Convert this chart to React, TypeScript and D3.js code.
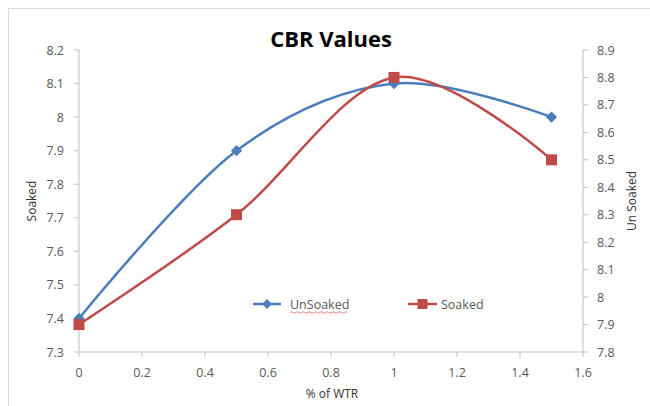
import React from "react";
import * as d3 from "d3";

const xValues = [0, 0.5, 1, 1.5];
const unSoaked = [7.4, 7.9, 8.1, 8.0];
const soaked = [7.9, 8.3, 8.8, 8.5];
const xTicks = [0, 0.2, 0.4, 0.6, 0.8, 1, 1.2, 1.4, 1.6];
const leftTicks = [7.3, 7.4, 7.5, 7.6, 7.7, 7.8, 7.9, 8, 8.1, 8.2];
const rightTicks = [7.8, 7.9, 8, 8.1, 8.2, 8.3, 8.4, 8.5, 8.6, 8.7, 8.8, 8.9];

const BLUE = "#4a7ebb";
const RED = "#be4b48";
const AXIS = "#bfbfbf";
const TXT = "#595959";
const FONT = "'Open Sans', 'Liberation Sans', sans-serif";

export default function App() {
  const W = 650, H = 406;
  const x = d3.scaleLinear().domain([0, 1.6]).range([79, 583]);
  const yL = d3.scaleLinear().domain([7.3, 8.2]).range([352, 50]);
  const yR = d3.scaleLinear().domain([7.8, 8.9]).range([352, 50]);
  const line = (ys: number[], sc: d3.ScaleLinear<number, number>) =>
    d3.line<number>().x((_, i) => x(xValues[i])).y((v) => sc(v)).curve(d3.curveCardinal.tension(0))(ys) || "";
  const fmt = (v: number) => String(+v.toFixed(1));
  return (
    <svg width={W} height={H} style={{ position: "absolute", left: 0, top: 0, background: "#fff" }}>
      <rect x={8.5} y={8.5} width={660} height={420} fill="none" stroke="#d9d9d9" strokeWidth={1} />
      <text x={331} y={47} textAnchor="middle" fontFamily={FONT} fontWeight="bold" fontSize={22} fill="#000">CBR Values</text>
      {/* axes */}
      <line x1={79} y1={50} x2={79} y2={352} stroke={AXIS} />
      <line x1={583} y1={50} x2={583} y2={352} stroke={AXIS} />
      <line x1={79} y1={352} x2={583} y2={352} stroke={AXIS} />
      {leftTicks.map((t) => (
        <g key={"l" + t}>
          <line x1={74} x2={79} y1={yL(t)} y2={yL(t)} stroke={AXIS} />
          <text x={64} y={yL(t) + 4.5} textAnchor="end" fontFamily={FONT} fontSize={12.5} fill={TXT}>{fmt(t)}</text>
        </g>
      ))}
      {rightTicks.map((t) => (
        <g key={"r" + t}>
          <line x1={583} x2={588} y1={yR(t)} y2={yR(t)} stroke={AXIS} />
          <text x={597} y={yR(t) + 4.5} textAnchor="start" fontFamily={FONT} fontSize={12.5} fill={TXT}>{fmt(t)}</text>
        </g>
      ))}
      {xTicks.map((t) => (
        <g key={"x" + t}>
          <line x1={x(t)} x2={x(t)} y1={352} y2={357} stroke={AXIS} />
          <text x={x(t)} y={377} textAnchor="middle" fontFamily={FONT} fontSize={12.5} fill={TXT}>{fmt(t)}</text>
        </g>
      ))}
      <text x={332} y={398} textAnchor="middle" fontFamily={FONT} fontSize={12} fill="#333">% of WTR</text>
      <text transform="translate(36,201) rotate(-90)" textAnchor="middle" fontFamily={FONT} fontSize={12} fill="#333">Soaked</text>
      <text transform="translate(636,201) rotate(-90)" textAnchor="middle" fontFamily={FONT} fontSize={12} fill="#333">Un Soaked</text>
      {/* series */}
      <path d={line(unSoaked, yL)} fill="none" stroke={BLUE} strokeWidth={2.5} />
      <path d={line(soaked, yR)} fill="none" stroke={RED} strokeWidth={2.5} />
      {unSoaked.map((v, i) => (
        <rect key={"b" + i} x={-4} y={-4} width={8} height={8} fill={BLUE}
          transform={`translate(${x(xValues[i])},${yL(v)}) rotate(45)`} />
      ))}
      {soaked.map((v, i) => (
        <rect key={"r" + i} x={x(xValues[i]) - 5.5} y={yR(v) - 5.5} width={11} height={11} fill={RED} />
      ))}
      {/* legend */}
      <line x1={253} x2={281} y1={304} y2={304} stroke={BLUE} strokeWidth={2.5} />
      <rect x={-3.5} y={-3.5} width={7} height={7} fill={BLUE} transform="translate(267,304) rotate(45)" />
      <text x={290} y={308.5} fontFamily={FONT} fontSize={12.5} fill={TXT}>UnSoaked</text>
      <path d="M290,312.5 q1.5,-1.5 3,0 t3,0 t3,0 t3,0 t3,0 t3,0 t3,0 t3,0 t3,0 t3,0 t3,0 t3,0 t3,0 t3,0 t3,0 t3,0 t3,0 t3,0 t3,0" fill="none" stroke="#e06060" strokeWidth={0.8} />
      <line x1={408} x2={437} y1={304} y2={304} stroke={RED} strokeWidth={2.5} />
      <rect x={417.5} y={299} width={10} height={10} fill={RED} />
      <text x={441} y={308.5} fontFamily={FONT} fontSize={12.5} fill={TXT}>Soaked</text>
    </svg>
  );
}
